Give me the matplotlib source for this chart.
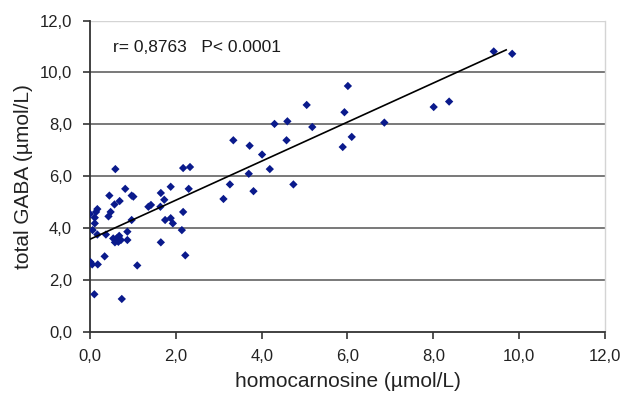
import matplotlib
matplotlib.use("Agg")
import matplotlib.pyplot as plt
from matplotlib.ticker import FuncFormatter

plt.rcParams['font.family'] = ['Liberation Sans', 'DejaVu Sans']

# homocarnosine (umol/L) vs total GABA (umol/L)
homocarnosine = [
    9.41, 9.84, 6.01, 5.05, 5.93, 8.01, 8.37, 4.30, 4.60, 5.18,
    6.86, 6.10, 5.89, 4.58, 3.34, 3.72, 4.01, 3.70, 4.19, 3.26,
    3.81, 4.74, 3.11, 2.17, 2.33, 2.30, 1.88, 1.65, 1.73, 1.36,
    1.42, 1.64, 2.17, 1.75, 1.88, 1.93, 2.14, 1.65, 2.22, 1.10,
    0.59, 0.82, 0.45, 0.97, 1.01, 0.69, 0.57, 0.48, 0.43, 0.97,
    0.00, 0.17, 0.14, 0.11, 0.11, 0.06, 0.17, 0.37, 0.87, 0.87,
    0.54, 0.62, 0.68, 0.58, 0.66, 0.72, 0.34, 0.01, 0.18, 0.05,
    0.10, 0.74,
]
total_gaba = [
    10.81, 10.72, 9.48, 8.75, 8.47, 8.67, 8.88, 8.02, 8.12, 7.90,
    8.07, 7.52, 7.13, 7.39, 7.39, 7.18, 6.84, 6.10, 6.28, 5.69,
    5.43, 5.69, 5.13, 6.32, 6.36, 5.52, 5.60, 5.36, 5.10, 4.83,
    4.90, 4.83, 4.63, 4.32, 4.39, 4.19, 3.93, 3.46, 2.96, 2.57,
    6.28, 5.52, 5.26, 5.26, 5.22, 5.05, 4.92, 4.63, 4.46, 4.32,
    4.55, 4.74, 4.63, 4.41, 4.19, 3.93, 3.76, 3.76, 3.87, 3.55,
    3.61, 3.61, 3.71, 3.46, 3.48, 3.55, 2.92, 2.70, 2.61, 2.61,
    1.46, 1.28,
]

# regression line ends
fit_x = [0.0, 9.70]
fit_y = [3.58, 10.87]

ticks = [0, 2, 4, 6, 8, 10, 12]

fig = plt.figure(figsize=(6.21, 3.95), dpi=100)
ax = fig.add_axes([0.145, 0.159, 0.829, 0.789])

for t in ticks[1:-1]:
    ax.axhline(t, color='#6e6e6e', lw=1.3, zorder=1)
ax.axhline(12, color='#d4d4d4', lw=1.0, zorder=1)

ax.scatter(homocarnosine, total_gaba, marker='D', s=18, color='#0a1a8c',
           edgecolors='none', zorder=3)
ax.plot(fit_x, fit_y, color='black', lw=1.2, zorder=4)

ax.text(0.53, 10.96, "r= 0,8763   P< 0.0001", fontsize=12.5, va='center',
        color='#1a1a1a')

ax.set_xlim(0, 12)
ax.set_ylim(0, 12)
ax.set_xticks(ticks)
ax.set_yticks(ticks)
comma = FuncFormatter(lambda v, p: f"{v:.1f}".replace('.', ','))
ax.xaxis.set_major_formatter(comma)
ax.yaxis.set_major_formatter(comma)

ax.spines['top'].set_visible(False)
ax.spines['right'].set_color('#d4d4d4')
ax.spines['right'].set_linewidth(1.0)
ax.spines['left'].set_color('#333333')
ax.spines['bottom'].set_color('#333333')
ax.spines['left'].set_linewidth(1.3)
ax.spines['bottom'].set_linewidth(1.3)
ax.tick_params(direction='out', length=5, width=1.2, color='#333333',
               labelsize=12, labelcolor='#222222')
ax.tick_params(axis='x', pad=7)
ax.tick_params(axis='y', pad=8)

ax.set_xlabel("homocarnosine (µmol/L)", fontsize=15, color='#222222', labelpad=6)
ax.set_ylabel("total GABA (µmol/L)", fontsize=15, color='#222222', labelpad=5)

fig.savefig("out.png", dpi=100)
